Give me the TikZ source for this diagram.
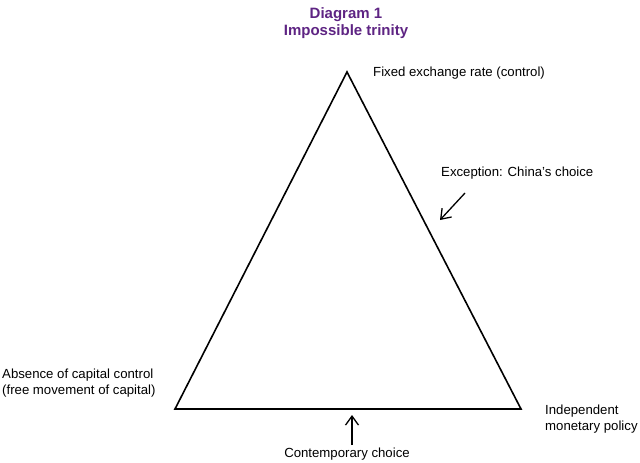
\documentclass[tikz,border=0pt]{standalone}
\usepackage{fontspec}
\setmainfont{Liberation Sans}
\usetikzlibrary{arrows.meta, positioning}
\definecolor{titlePurple}{HTML}{5E2483}

\begin{document}
\begin{tikzpicture}[x=1pt, y=-1pt,
    lbl/.style={font=\fontsize{13.2}{15.5}\selectfont, inner sep=0pt},
    pointer/.style={-{Straight Barb[length=9pt, width=13pt]}, line width=1.3pt}]
    \useasboundingbox (0,0) rectangle (640,463);
    % Title
    \node[font=\bfseries\fontsize{15}{16.5}\selectfont, text=titlePurple, align=center] (title) at (346,23) {Diagram 1\\Impossible trinity};
    % Triangle corners
    \coordinate (fixed) at (347,72);
    \coordinate (capital) at (175,409);
    \coordinate (monetary) at (521,409);
    \draw[line width=1.6pt, line join=miter] (fixed) -- (monetary) -- (capital) -- cycle;
    % Corner labels
    \node[lbl, anchor=west] (fixedlbl) at (373,73) {Fixed exchange rate (control)};
    \node[lbl, anchor=west, align=left] (capitallbl) at (2,383) {Absence of capital control\\(free movement of capital)};
    \node[lbl, anchor=west, align=left] (monetarylbl) at (545,419) {Independent\\monetary policy};
    % Choices
    \node[lbl, anchor=west] (chinalbl) at (441,173) {Exception: China's choice};
    \coordinate (chinaTail) at (465,193);
    \coordinate (chinaHead) at (440,220);
    \draw[pointer] (chinaTail) -- (chinaHead);
    \node[lbl] (nowlbl) at (347,454) {Contemporary choice};
    \coordinate (nowTail) at (352,445);
    \coordinate (nowHead) at (352,415);
    \draw[pointer] (nowTail) -- (nowHead);
\end{tikzpicture}
\end{document}
